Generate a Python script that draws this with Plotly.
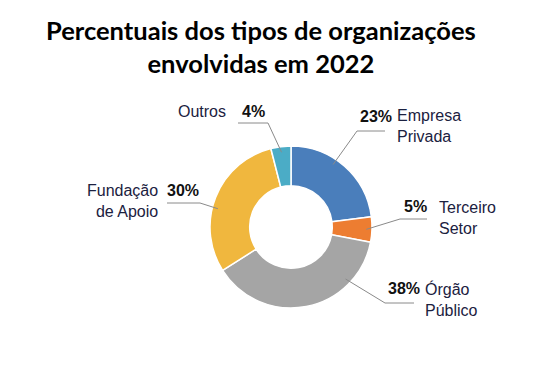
import math
import plotly.graph_objects as go

# ---- data ----
categories = ["Empresa Privada", "Terceiro Setor", "Órgão Público", "Fundação de Apoio", "Outros"]
values = [23, 5, 38, 30, 4]
pct_labels = ["23%", "5%", "38%", "30%", "4%"]
name_lines = [["Empresa", "Privada"], ["Terceiro", "Setor"], ["Órgão", "Público"],
              ["Fundação", "de Apoio"], ["Outros"]]
colors = ["#4a7ebb", "#ed7d31", "#a5a5a5", "#f0b73e", "#4bacc6"]
title_text = "Percentuais dos tipos de organizações<br>envolvidas em 2022"

# ---- layout constants (pixels) ----
W, H = 557, 369
CX, CY, R = 291, 227, 81
HOLE = 0.51
leader_frac = [0.41, 0.5, 0.24, 0.43, 0.5]   # where along each slice the leader touches
leader_r = 0.93
elbows = [(357, 131), (400, 219), (385, 303), (200, 203), (268, 123)]
hends = [385, 427, 414, 167, 238]
pct_pos = [(376, 116.7), (415, 206.7), (404, 288.3), (182.5, 190.7), (253.3, 111.5)]
name_pos = [(395, 125.8, "left"), (436.7, 218, "left"), (423.3, 299, "left"),
            (160, 200.8, "right"), (228.3, 111.7, "right")]

FONT = "Liberation Sans, Arial, sans-serif"
TITLE_FONT = "Lato, Open Sans, sans-serif"
LABEL_SIZE = 16


def px(x):
    return x / W


def py(y):
    return 1 - y / H


fig = go.Figure()
fig.add_trace(go.Pie(
    labels=categories, values=values, sort=False, direction="clockwise", rotation=0,
    hole=HOLE, marker=dict(colors=colors, line=dict(color="white", width=1.5)),
    textinfo="none", hoverinfo="label+percent", showlegend=False,
    domain=dict(x=[px(CX - R), px(CX + R)], y=[py(CY + R), py(CY - R)]),
))

total = sum(values)
shapes = []
annotations = []
cum = 0
for i, v in enumerate(values):
    start = cum / total * 360
    span = v / total * 360
    cum += v
    ang = math.radians(start + leader_frac[i] * span)
    tx = CX + leader_r * R * math.sin(ang)
    ty = CY - leader_r * R * math.cos(ang)
    ex, ey = elbows[i]
    path = f"M {px(tx)},{py(ty)} L {px(ex)},{py(ey)} L {px(hends[i])},{py(ey)}"
    shapes.append(dict(type="path", path=path, xref="paper", yref="paper",
                       line=dict(color="#8a8a8a", width=1)))
    annotations.append(dict(
        x=px(pct_pos[i][0]), y=py(pct_pos[i][1]), xref="paper", yref="paper",
        text=f"<b>{pct_labels[i]}</b>", showarrow=False, xanchor="center", yanchor="middle",
        font=dict(family=FONT, size=LABEL_SIZE, color="#111111")))
    nx, ny, side = name_pos[i]
    annotations.append(dict(
        x=px(nx), y=py(ny), xref="paper", yref="paper",
        text="<br>".join(name_lines[i]), showarrow=False,
        xanchor=side, yanchor="middle", align=side,
        font=dict(family=FONT, size=LABEL_SIZE, color="#1b2140")))

annotations.append(dict(
    x=px(261), y=py(46), xref="paper", yref="paper", text=f"<b>{title_text}</b>",
    showarrow=False, xanchor="center", yanchor="middle",
    font=dict(family=TITLE_FONT, size=25.5, color="black")))

fig.update_layout(
    width=W, height=H, margin=dict(l=0, r=0, t=0, b=0),
    paper_bgcolor="white", plot_bgcolor="white",
    shapes=shapes, annotations=annotations,
)

fig.write_html("out.html", config={"displayModeBar": False},
               post_script="document.body.style.margin='0';")
